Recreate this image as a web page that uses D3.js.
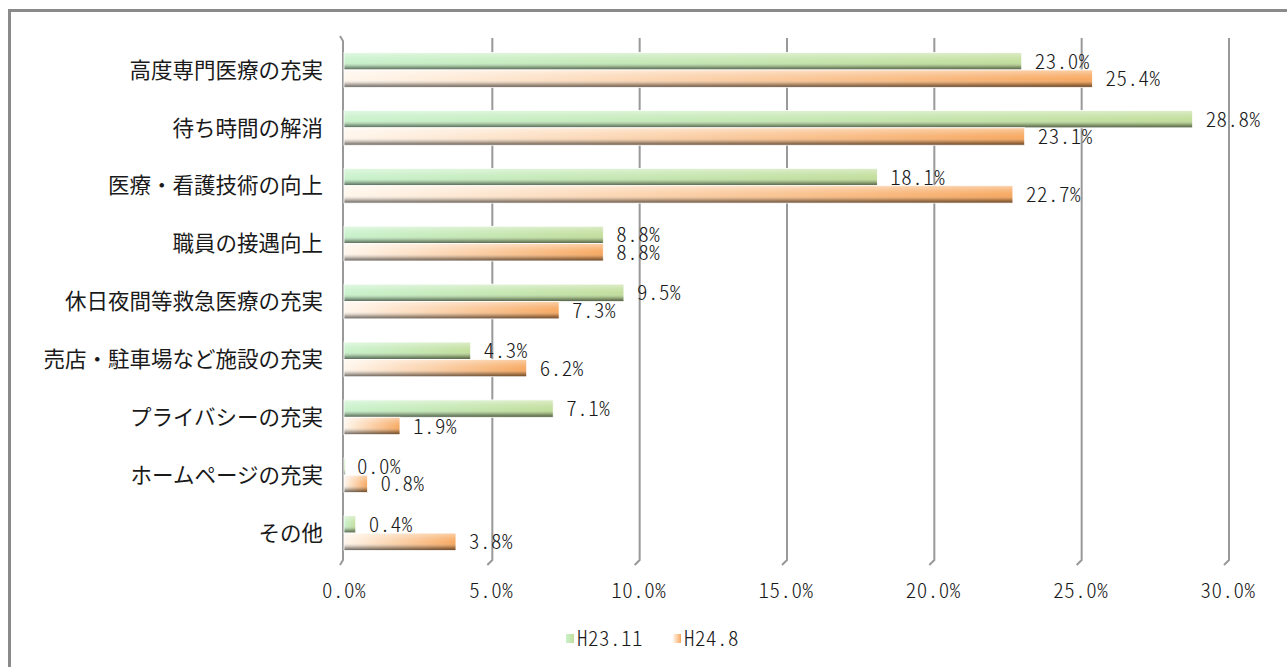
<!DOCTYPE html>
<html>
<head>
<meta charset="utf-8">
<script src="https://cdn.jsdelivr.net/npm/d3@7"></script>
<style>
  body { margin: 0; background: #fff; }
  text { font-family: "Noto Sans CJK JP", sans-serif; fill: #1a1a1a; }
  .num { font-feature-settings: "hwid" 1; font-weight: 300; letter-spacing: 0.5px; }
</style>
</head>
<body>
<script>
// items asked about, top to bottom
const categories = ["高度専門医療の充実", "待ち時間の解消", "医療・看護技術の向上", "職員の接遇向上",
  "休日夜間等救急医療の充実", "売店・駐車場など施設の充実", "プライバシーの充実", "ホームページの充実", "その他"];
const seriesNames = ["H23.11", "H24.8"];
const h23 = [23.0, 28.8, 18.1, 8.8, 9.5, 4.3, 7.1, 0.0, 0.4];
const h24 = [25.4, 23.1, 22.7, 8.8, 7.3, 6.2, 1.9, 0.8, 3.8];
const ticks = [0, 5, 10, 15, 20, 25, 30];

const width = 1287, height = 667;
const svg = d3.select("body").append("svg").attr("width", width).attr("height", height);

// chart frame
svg.append("rect").attr("x", 9.5).attr("y", 10.5).attr("width", width).attr("height", height)
   .attr("fill", "none").attr("stroke", "#8a8a8a").attr("stroke-width", 3);

const x = d3.scaleLinear().domain([0, 30]).range([344, 1228]);
const y = d3.scaleBand().domain(categories).range([41, 562]).paddingInner(0.4).paddingOuter(0.2);
const ySub = d3.scaleBand().domain(seriesNames).range([0, y.bandwidth()]);

// gradients
const defs = svg.append("defs");
const base = [["g0", "#c9f2cc", "#c2de9c"], ["g1", "#fff6ec", "#f7a860"]];
base.forEach(([id, c1, c2]) => {
  const g = defs.append("linearGradient").attr("id", id);
  g.append("stop").attr("offset", "0%").attr("stop-color", c1);
  g.append("stop").attr("offset", "100%").attr("stop-color", c2);
});
const shade = defs.append("linearGradient").attr("id", "shade").attr("x1", 0).attr("x2", 0).attr("y1", 0).attr("y2", 1);
[[0, "#fff", 0.45], [0.3, "#fff", 0.15], [0.55, "#fff", 0], [0.8, "#000", 0.25], [1, "#000", 0.6]]
  .forEach(([o, c, a]) => shade.append("stop").attr("offset", o).attr("stop-color", c).attr("stop-opacity", a));

// gridlines with little bottom hook
const grid = svg.append("g");
ticks.forEach(t => {
  const gx = x(t);
  grid.append("path")
      .attr("d", t === 0
        ? `M${gx - 4},36 L${gx - 1},41 L${gx - 1},560 L${gx - 4},565`
        : `M${gx + 1},38 L${gx + 1},560 L${gx - 4},565`)
      .attr("fill", "none").attr("stroke", "#999").attr("stroke-width", 2);
});

// bars
const rows = categories.map((c, i) => ({c, vals: [h23[i], h24[i]]}));
const bh = ySub.bandwidth();
rows.forEach(r => {
  r.vals.forEach((v, k) => {
    const by = y(r.c) + ySub(seriesNames[k]);
    const w = Math.max(x(v) - x(0), 1.5);
    svg.append("rect").attr("x", x(0)).attr("y", by).attr("width", w).attr("height", bh)
       .attr("fill", `url(#g${k})`);
    svg.append("rect").attr("x", x(0)).attr("y", by).attr("width", w).attr("height", bh)
       .attr("fill", "url(#shade)").attr("stroke", "#fff").attr("stroke-width", 0.8);
    svg.append("text").attr("class", "num")
       .attr("x", x(v) + 13).attr("y", by + bh / 2)
       .attr("dy", "0.36em").attr("font-size", 21)
       .text(v.toFixed(1) + "%");
  });
});

// category labels
svg.selectAll(".cat").data(categories).enter().append("text")
   .attr("x", 323).attr("y", d => y(d) + y.bandwidth() / 2)
   .attr("dy", "0.36em").attr("text-anchor", "end").attr("font-size", 21.5)
   .text(d => d);

// x tick labels
svg.selectAll(".tick").data(ticks).enter().append("text").attr("class", "num")
   .attr("x", d => x(d)).attr("y", 590).attr("dy", "0.36em")
   .attr("text-anchor", "middle").attr("font-size", 21)
   .text(d => d.toFixed(1) + "%");

// legend
const legend = svg.append("g");
const lx = [566, 673];
seriesNames.forEach((s, k) => {
  legend.append("rect").attr("x", lx[k]).attr("y", 634).attr("width", 8).attr("height", 9)
        .attr("fill", `url(#g${k})`);
  legend.append("text").attr("class", "num").attr("x", lx[k] + 11).attr("y", 638)
        .attr("dy", "0.36em").attr("font-size", 21).text(s);
});
</script>
</body>
</html>
